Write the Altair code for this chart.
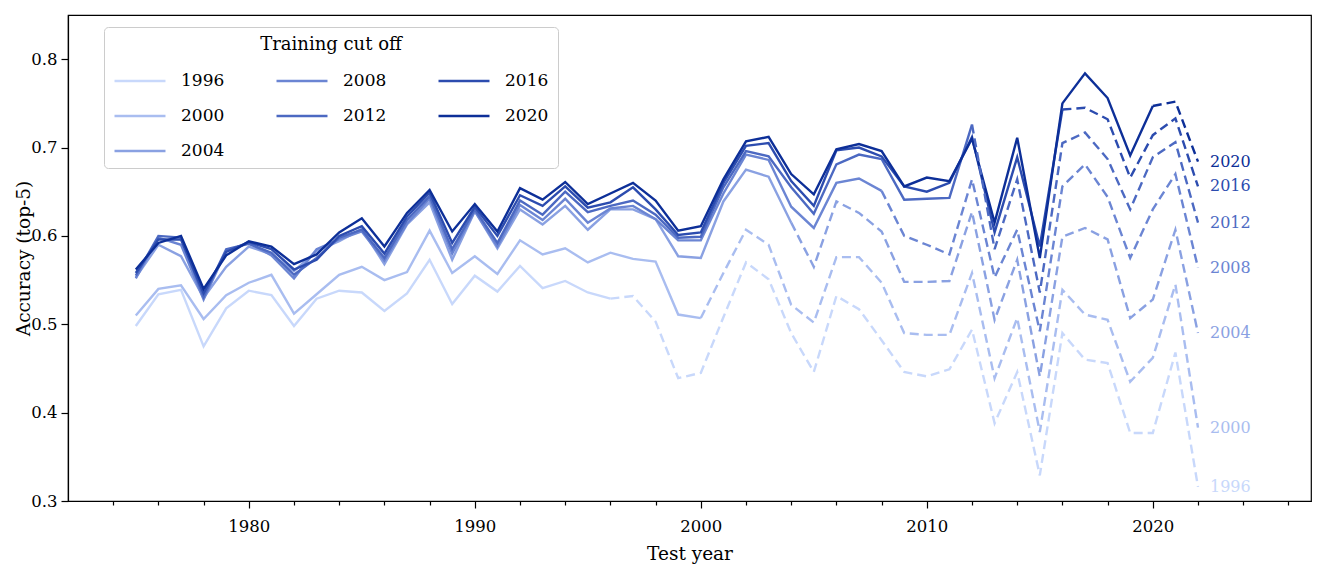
import altair as alt
import pandas as pd

years = list(range(1975, 2023))

cutoffs = ["1996", "2000", "2004", "2008", "2012", "2016", "2020"]
colors = ["#c8d8fb", "#a9bdf0", "#8aa1e2", "#6b85d3", "#4c69c2", "#2c4caf", "#0d2f98"]

acc_1996 = [0.498, 0.534, 0.539, 0.475, 0.518, 0.538, 0.533, 0.498, 0.529, 0.538, 0.536, 0.515,
            0.535, 0.573, 0.523, 0.555, 0.537, 0.566, 0.541, 0.549, 0.536, 0.529, 0.532, 0.503,
            0.439, 0.445, 0.508, 0.570, 0.551, 0.490, 0.446, 0.532, 0.517, 0.482, 0.446, 0.441,
            0.449, 0.494, 0.388, 0.446, 0.329, 0.490, 0.460, 0.456, 0.377, 0.377, 0.468, 0.316]
acc_2000 = [0.510, 0.540, 0.544, 0.506, 0.533, 0.547, 0.556, 0.512, 0.534, 0.556, 0.565, 0.550,
            0.559, 0.606, 0.558, 0.577, 0.557, 0.595, 0.579, 0.586, 0.570, 0.581, 0.574, 0.571,
            0.511, 0.507, 0.558, 0.607, 0.590, 0.522, 0.502, 0.576, 0.576, 0.547, 0.490, 0.488,
            0.488, 0.558, 0.439, 0.507, 0.378, 0.539, 0.511, 0.505, 0.435, 0.462, 0.545, 0.383]
acc_2004 = [0.553, 0.590, 0.577, 0.530, 0.565, 0.588, 0.579, 0.560, 0.583, 0.594, 0.608, 0.568,
            0.613, 0.638, 0.573, 0.628, 0.586, 0.630, 0.613, 0.634, 0.607, 0.630, 0.630, 0.619,
            0.577, 0.575, 0.639, 0.675, 0.667, 0.615, 0.565, 0.639, 0.626, 0.605, 0.548, 0.548,
            0.549, 0.627, 0.505, 0.573, 0.441, 0.599, 0.609, 0.596, 0.507, 0.528, 0.607, 0.490]
acc_2008 = [0.552, 0.598, 0.590, 0.528, 0.583, 0.592, 0.578, 0.552, 0.585, 0.596, 0.605, 0.572,
            0.614, 0.642, 0.580, 0.628, 0.588, 0.635, 0.618, 0.642, 0.615, 0.631, 0.634, 0.619,
            0.595, 0.595, 0.648, 0.692, 0.686, 0.633, 0.609, 0.660, 0.665, 0.651, 0.600, 0.590,
            0.579, 0.664, 0.553, 0.607, 0.492, 0.656, 0.681, 0.644, 0.575, 0.630, 0.670, 0.564]
acc_2012 = [0.555, 0.600, 0.598, 0.531, 0.585, 0.591, 0.581, 0.556, 0.575, 0.598, 0.607, 0.575,
            0.618, 0.645, 0.585, 0.630, 0.592, 0.640, 0.624, 0.650, 0.627, 0.634, 0.640, 0.624,
            0.598, 0.599, 0.655, 0.696, 0.690, 0.655, 0.625, 0.681, 0.692, 0.687, 0.641, 0.642,
            0.643, 0.726, 0.585, 0.664, 0.536, 0.705, 0.717, 0.687, 0.630, 0.689, 0.706, 0.615]
acc_2016 = [0.558, 0.596, 0.596, 0.535, 0.582, 0.593, 0.585, 0.562, 0.573, 0.600, 0.611, 0.580,
            0.622, 0.649, 0.592, 0.633, 0.600, 0.646, 0.634, 0.656, 0.632, 0.638, 0.655, 0.630,
            0.601, 0.604, 0.660, 0.702, 0.705, 0.662, 0.634, 0.697, 0.700, 0.690, 0.656, 0.650,
            0.660, 0.712, 0.604, 0.689, 0.588, 0.743, 0.745, 0.732, 0.666, 0.714, 0.733, 0.656]
acc_2020 = [0.562, 0.592, 0.600, 0.540, 0.578, 0.594, 0.588, 0.568, 0.579, 0.604, 0.620, 0.588,
            0.626, 0.652, 0.605, 0.636, 0.605, 0.654, 0.641, 0.661, 0.636, 0.648, 0.660, 0.640,
            0.606, 0.611, 0.664, 0.707, 0.712, 0.670, 0.647, 0.698, 0.704, 0.696, 0.656, 0.666,
            0.662, 0.710, 0.615, 0.711, 0.575, 0.750, 0.784, 0.756, 0.691, 0.747, 0.752, 0.684]

series = [acc_1996, acc_2000, acc_2004, acc_2008, acc_2012, acc_2016, acc_2020]

# Order of scale domain chosen so that Vega's 3-column legend reads
# 1996 2008 2016 / 2000 2012 2020 / 2004 (as in the reference)
domain_order = ["1996", "2000", "2020", "2008", "2012", "2004", "2016"]
key_of = {c: f"{domain_order.index(c)}|{c}" for c in cutoffs}
keys_sorted = [f"{i}|{c}" for i, c in enumerate(domain_order)]
color_of = dict(zip(cutoffs, colors))
key_colors = [color_of[c] for c in domain_order]

rows = []
for order, (c, vals) in enumerate(zip(cutoffs, series)):
    for y, v in zip(years, vals):
        rows.append({"cutoff": c, "key": key_of[c], "order": order, "year": y, "acc": v})
df = pd.DataFrame(rows)
df["cut"] = df["cutoff"].astype(int)

solid = df[df["year"] <= df["cut"]]
dashed = df[df["year"] >= df["cut"]]
last = df[df["year"] == years[-1]]

FONT = "DejaVu Serif"

color_scale = alt.Scale(domain=keys_sorted, range=key_colors)

legend = alt.Legend(
    title="Training cut off", orient="none", legendX=36, legendY=12, columns=3,
    labelExpr="split(datum.label, '|')[1]",
    symbolType="stroke", symbolSize=2600, symbolStrokeWidth=2.5, symbolDash=[1, 0],
    labelFont=FONT, titleFont=FONT, labelFontSize=17, titleFontSize=18,
    titleFontWeight="normal", titleAnchor="middle", titlePadding=0,
    strokeColor="#cccccc", fillColor="white", cornerRadius=4, padding=9,
    columnPadding=46, rowPadding=0, labelOffset=14,
)

x_enc = alt.X("year:Q", scale=alt.Scale(domain=[1972, 2027], nice=False, zero=False),
              axis=alt.Axis(title="Test year", values=list(range(1974, 2027, 2)), format="d",
                            labelExpr="datum.value % 10 === 0 ? datum.label : ''",
                            tickSize={"condition": {"test": "datum.value % 10 === 0", "value": 7}, "value": 4},
                            grid=False, labelPadding=10, titlePadding=10))
y_enc = alt.Y("acc:Q", scale=alt.Scale(domain=[0.3, 0.85], nice=False, zero=False),
              axis=alt.Axis(title="Accuracy (top-5)", values=[0.3, 0.4, 0.5, 0.6, 0.7, 0.8],
                            format=".1f", tickSize=7, grid=False, labelPadding=4, titlePadding=-3))
col_enc = alt.Color("key:N", scale=color_scale, legend=legend)

solid_layer = alt.Chart(solid).mark_line(strokeWidth=2.4).encode(
    x=x_enc, y=y_enc, color=col_enc, detail="cutoff:N", order="year:Q")
dashed_layer = alt.Chart(dashed).mark_line(strokeWidth=2.4, strokeDash=[9, 5]).encode(
    x=x_enc, y=y_enc, color=col_enc, detail="cutoff:N", order="year:Q")
labels = alt.Chart(last).mark_text(align="left", baseline="middle", dx=12, font=FONT, fontSize=16).encode(
    x=x_enc, y=y_enc, text="cutoff:N", color=alt.Color("key:N", scale=color_scale, legend=None))

chart = alt.layer(solid_layer, dashed_layer, labels).properties(
    width=1243, height=486, padding={"left": 6, "top": 7, "right": 5, "bottom": 5}
).configure_view(stroke="black", strokeWidth=1.2).configure_axis(
    domainColor="black", tickColor="black", labelColor="black", titleColor="black",
    labelFont=FONT, titleFont=FONT, labelFontSize=16.5, titleFontSize=18.5,
    titleFontWeight="normal", domainWidth=1.2, tickWidth=1.2,
)

chart.save("out.html", embed_options={"renderer": "svg", "actions": False})
